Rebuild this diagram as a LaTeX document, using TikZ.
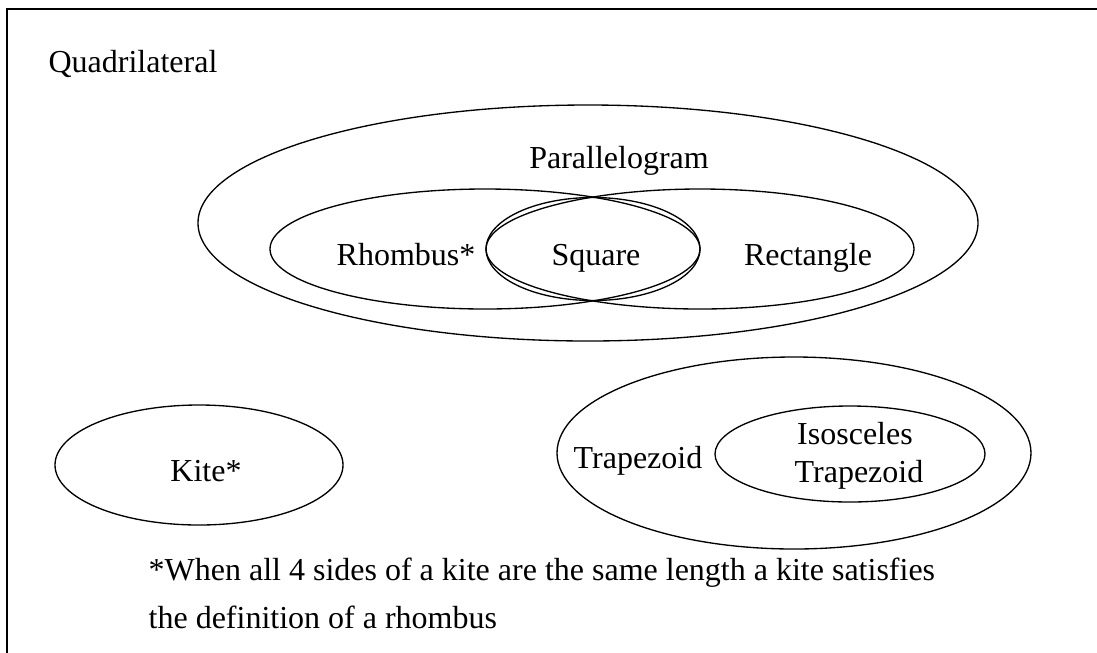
\documentclass[tikz,border=0pt]{standalone}
\usepackage{fontspec}
\setmainfont{Liberation Serif}
\usetikzlibrary{positioning}

\begin{document}
\begin{tikzpicture}[x=0.375pt, y=-0.375pt, line width=0.5pt,
  every node/.style={font=\fontsize{12}{14}\selectfont, inner sep=0pt, anchor=base}]
\useasboundingbox (0,0) rectangle (1097,652);
\clip (0,0) rectangle (1097,652);
% Outer frame (cut at right and bottom)
\draw[line width=0.75pt] (6.5,8.5) rectangle (1120,680);
\node (quad) at (133,72) {Quadrilateral};

% Parallelogram family
\draw (588,223) ellipse [x radius=390, y radius=118];
\node (para) at (619,168) {Parallelogram};
\draw (485,249) ellipse [x radius=215, y radius=60];
\draw (593,249) ellipse [x radius=107, y radius=51.5];
\draw (700,249) ellipse [x radius=214, y radius=60];
\node (rhombus) at (406,265) {Rhombus*};
\node (square) at (596,265) {Square};
\node (rect) at (808,265) {Rectangle};

% Kite
\draw (199,465) ellipse [x radius=144, y radius=60];
\node (kite) at (206,481) {Kite*};

% Trapezoid family
\draw (794,453) ellipse [x radius=237, y radius=96];
\draw (850,454) ellipse [x radius=135, y radius=48];
\node (trap) at (638,468) {Trapezoid};
\node (iso) at (855,444) {Isosceles};
\node (isotrap) at (859,482) {Trapezoid};

% Footnote
\node[anchor=base west] (note1) at (148,580)
  {*When all 4 sides of a kite are the same length a kite satisfies};
\node[anchor=base west] (note2) at (148,628) {the definition of a rhombus};
\end{tikzpicture}
\end{document}
